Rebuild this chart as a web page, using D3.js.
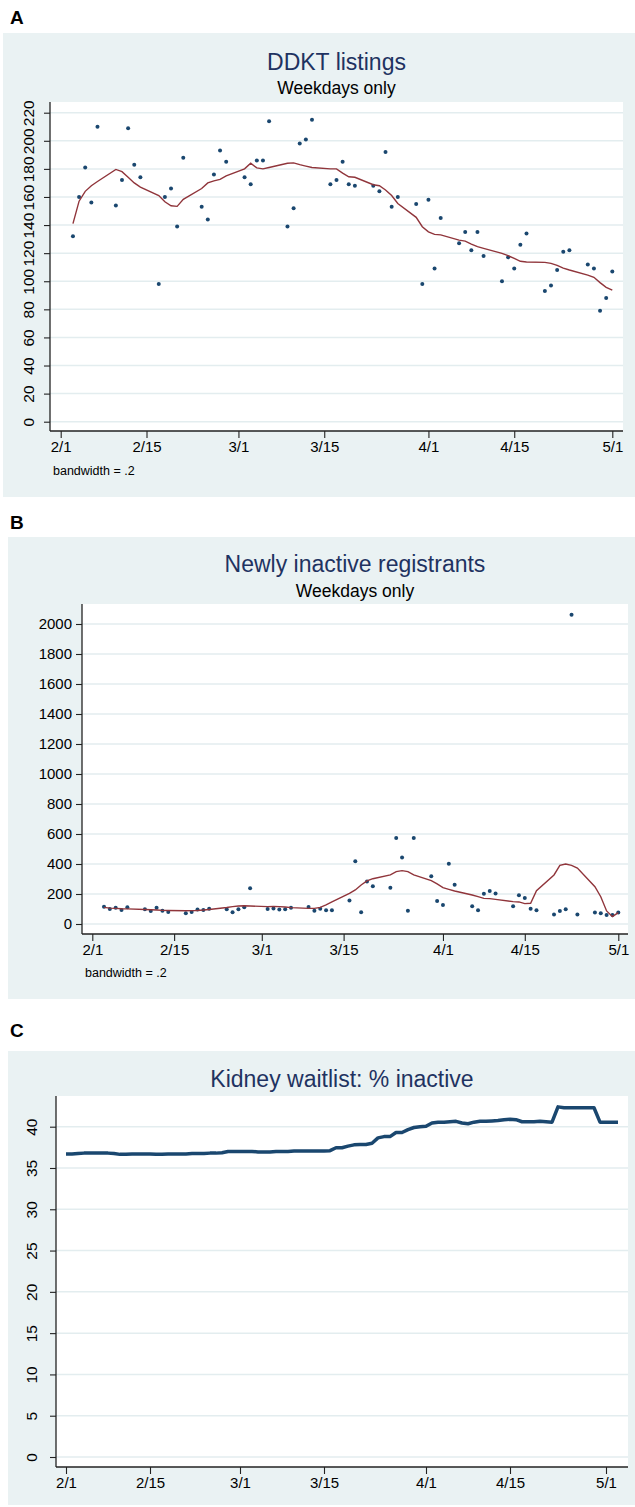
<!DOCTYPE html>
<html>
<head>
<meta charset="utf-8">
<script src="https://cdn.jsdelivr.net/npm/d3@7"></script>
<style>
  html, body { margin: 0; padding: 0; background: #ffffff; }
  svg { display: block; font-family: "Liberation Sans", Arial, sans-serif; }
</style>
</head>
<body>
<script>
// ---------------- DATA ----------------
const xTickDates = ["2020-02-01", "2020-02-15", "2020-03-01", "2020-03-15", "2020-04-01", "2020-04-15", "2020-05-01"];
const xTickLabels = ["2/1", "2/15", "3/1", "3/15", "4/1", "4/15", "5/1"];

// weekdays (Feb 3 – May 1, 2020)
const weekdays = [
  "02-03","02-04","02-05","02-06","02-07","02-10","02-11","02-12","02-13","02-14",
  "02-17","02-18","02-19","02-20","02-21","02-24","02-25","02-26","02-27","02-28",
  "03-02","03-03","03-04","03-05","03-06","03-09","03-10","03-11","03-12","03-13",
  "03-16","03-17","03-18","03-19","03-20","03-23","03-24","03-25","03-26","03-27",
  "03-30","03-31","04-01","04-02","04-03","04-06","04-07","04-08","04-09","04-10",
  "04-13","04-14","04-15","04-16","04-17","04-20","04-21","04-22","04-23","04-24",
  "04-27","04-28","04-29","04-30","05-01"
];

// Panel A: DDKT listings
const ddktListings = [
  132,160,181,156,210, 154,172,209,183,174,
  98,160,166,139,188, 153,144,176,193,185,
  174,169,186,186,214, 139,152,198,201,215,
  169,172,185,169,168, 168,164,192,153,160,
  155,98,158,109,145, 127,135,122,135,118,
  100,117,109,126,134, 93,97,108,121,122,
  112,109,79,88,107
];
const ddktLowess = [
  141,157,164,168,171, 179.6,178,174,170,167,
  161,156.6,153.7,153.3,158.3, 166,170,171.5,172.5,175,
  180,184,180.7,180,181, 184,184.3,183,182,181,
  180,180,177,174.4,174, 168.7,168,165,161,155.4,
  145.5,138.8,135.2,133.4,133, 129.3,128.6,126.5,124.6,123.4,
  119.8,118.2,116.3,114.2,113.7, 113.4,112.7,111.3,109.4,108,
  104.4,102.8,99,95.7,93.7
];
const ddktYTicks = [0,20,40,60,80,100,120,140,160,180,200,220];

// Panel B: Newly inactive registrants
const newlyInactive = [
  115,100,109,93,111, 98,87,109,89,80,
  71,80,96,93,102, 98,78,98,111,238,
  100,104,96,98,109, 113,89,102,91,91,
  156,418,78,284,251, 242,573,444,89,573,
  318,153,127,402,262, 118,91,202,220,204,
  118,191,173,102,91, 64,87,98,2062,64,
  76,71,60,60,76
];
const inactiveLowess = [
  111,106,104,102,101, 97,95,93,91,90,
  88,89,90,93,97, 110,116,120,122,120,
  116,117,116,113,109, 104,104,111,127,147,
  204,227,260,287,302, 327,349,356,349,327,
  289,267,242,231,220, 193,182,171,169,164,
  149,147,136,138,222, 327,391,400,391,373,
  249,182,87,49,76
];
const inactiveYTicks = [0,200,400,600,800,1000,1200,1400,1600,1800,2000];

// Panel C: Kidney waitlist % inactive (daily, from Feb 1, 2020)
const waitlistStart = "2020-02-01";
const pctInactive = [
  36.7,36.7,36.75,36.8,36.8,36.8,36.8,
  36.8,36.75,36.65,36.65,36.7,36.7,36.7,
  36.7,36.65,36.65,36.7,36.7,36.7,36.7,
  36.75,36.75,36.75,36.8,36.8,36.85,37.0,
  37.0,37.0,37.0,37.0,36.95,36.95,36.95,
  37.0,37.0,37.0,37.05,37.05,37.05,37.05,
  37.05,37.05,37.1,37.45,37.45,37.65,37.8,
  37.85,37.85,38.0,38.65,38.8,38.8,39.3,
  39.3,39.65,39.9,40.0,40.05,40.45,40.55,
  40.55,40.6,40.65,40.45,40.35,40.55,40.65,
  40.65,40.7,40.75,40.85,40.9,40.85,40.6,
  40.6,40.6,40.65,40.6,40.55,42.4,42.3,
  42.3,42.3,42.3,42.3,42.3,40.55,40.55,
  40.55,40.55
];
const pctYTicks = [0,5,10,15,20,25,30,35,40];

// ---------------- DRAW ----------------
const parse = d3.timeParse("%Y-%m-%d");
const wd = weekdays.map(s => parse("2020-" + s));
const tickDates = xTickDates.map(parse);
const tickLabelOf = new Map(tickDates.map((d, i) => [+d, xTickLabels[i]]));
const cDates = pctInactive.map((v, i) => d3.timeDay.offset(parse(waitlistStart), i));

const W = 635, H = 1507;
const svg = d3.select("body").append("svg").attr("width", W).attr("height", H);

const BG = "#eaf2f3", GRID = "#e3edef", NAVY = "#1a476f", MAROON = "#90353b", TITLE = "#1f3361";

function panel(o) {
  const g = svg.append("g");
  g.append("text").attr("x", 10).attr("y", o.letterY).text(o.letter)
    .attr("font-size", 19).attr("font-weight", "bold").attr("fill", "#000");
  g.append("rect").attr("x", o.bg[0]).attr("y", o.bg[1]).attr("width", o.bg[2] - o.bg[0]).attr("height", o.bg[3] - o.bg[1]).attr("fill", BG);
  const [L, T, R, B] = o.plot;
  g.append("rect").attr("x", L).attr("y", T).attr("width", R - L).attr("height", B - T).attr("fill", "#fff");
  const cx = (L + R) / 2;
  g.append("text").attr("x", cx).attr("y", o.titleY).attr("text-anchor", "middle")
    .attr("font-size", 23).attr("fill", TITLE).text(o.title);
  if (o.subtitle) g.append("text").attr("x", cx).attr("y", o.subY).attr("text-anchor", "middle")
    .attr("font-size", 17.5).attr("fill", "#000").text(o.subtitle);

  const x = d3.scaleTime().domain([tickDates[0], tickDates[tickDates.length - 1]]).range(o.xr);
  const y = d3.scaleLinear().domain(o.yd).range(o.yr);

  g.append("g").selectAll("line").data(o.yTicks).join("line")
    .attr("x1", L).attr("x2", R).attr("y1", d => y(d)).attr("y2", d => y(d))
    .attr("stroke", GRID).attr("stroke-width", 1.5);

  const ya = g.append("g").attr("transform", `translate(${L},0)`)
    .call(d3.axisLeft(y).tickValues(o.yTicks).tickFormat(d3.format("d")).tickSize(6).tickPadding(4).tickSizeOuter(0));
  ya.select(".domain").attr("d", `M0,${T}V${B}`);
  const xa = g.append("g").attr("transform", `translate(0,${B})`)
    .call(d3.axisBottom(x).tickValues(tickDates).tickFormat(d => tickLabelOf.get(+d)).tickSize(7).tickPadding(3).tickSizeOuter(0));
  xa.select(".domain").attr("d", `M${L},0H${R}`);
  [ya, xa].forEach(a => {
    a.select(".domain").attr("stroke", "#222").attr("stroke-width", 1.3);
    a.selectAll(".tick line").attr("stroke", "#222").attr("stroke-width", 1.1);
    a.selectAll("text").attr("font-size", 15).attr("fill", "#000").attr("font-family", "Liberation Sans, Arial, sans-serif");
  });
  if (o.rotateY) {
    ya.selectAll(".tick text").attr("transform", "rotate(-90)").attr("x", 0).attr("y", -o.rotOff)
      .attr("dy", 0).attr("text-anchor", "middle").attr("font-size", 15.5);
  }
  if (o.note) g.append("text").attr("x", L + 3).attr("y", o.noteY).attr("font-size", 12.5).attr("fill", "#000").text(o.note);
  return { g, x, y };
}

// Panel A
{
  const p = panel({
    letter: "A", letterY: 24, bg: [3, 33, 635, 497], plot: [50, 102, 623, 431],
    title: "DDKT listings", titleY: 69.5, subtitle: "Weekdays only", subY: 94,
    xr: [60.7, 612.3], yd: [0, 220], yr: [421.7, 112.7], yTicks: ddktYTicks,
    rotateY: true, rotOff: 16, note: "bandwidth = .2", noteY: 475
  });
  p.g.append("g").selectAll("circle").data(wd).join("circle")
    .attr("cx", d => p.x(d)).attr("cy", (d, i) => p.y(ddktListings[i])).attr("r", 2).attr("fill", NAVY);
  p.g.append("path").datum(wd).attr("fill", "none").attr("stroke", MAROON).attr("stroke-width", 1.4)
    .attr("d", d3.line().x(d => p.x(d)).y((d, i) => p.y(ddktLowess[i])));
}

// Panel B
{
  const p = panel({
    letter: "B", letterY: 529, bg: [8, 537, 635, 999], plot: [82, 604, 628, 934],
    title: "Newly inactive registrants", titleY: 572, subtitle: "Weekdays only", subY: 596.5,
    xr: [92.3, 618.3], yd: [0, 2000], yr: [924, 624], yTicks: inactiveYTicks,
    rotateY: false, note: "bandwidth = .2", noteY: 977
  });
  p.g.append("g").selectAll("circle").data(wd).join("circle")
    .attr("cx", d => p.x(d)).attr("cy", (d, i) => p.y(newlyInactive[i])).attr("r", 2).attr("fill", NAVY);
  p.g.append("path").datum(wd).attr("fill", "none").attr("stroke", MAROON).attr("stroke-width", 1.4)
    .attr("d", d3.line().x(d => p.x(d)).y((d, i) => p.y(inactiveLowess[i])));
}

// Panel C
{
  const p = panel({
    letter: "C", letterY: 1037, bg: [8, 1051, 635, 1505], plot: [56, 1096, 628, 1467],
    title: "Kidney waitlist: % inactive", titleY: 1087,
    xr: [66, 606], yd: [0, 40], yr: [1457, 1126.7], yTicks: pctYTicks,
    rotateY: true, rotOff: 19
  });
  p.g.append("path").datum(cDates).attr("fill", "none").attr("stroke", NAVY).attr("stroke-width", 3.5)
    .attr("stroke-linejoin", "round")
    .attr("d", d3.line().x(d => p.x(d)).y((d, i) => p.y(pctInactive[i])));
}
</script>
</body>
</html>
